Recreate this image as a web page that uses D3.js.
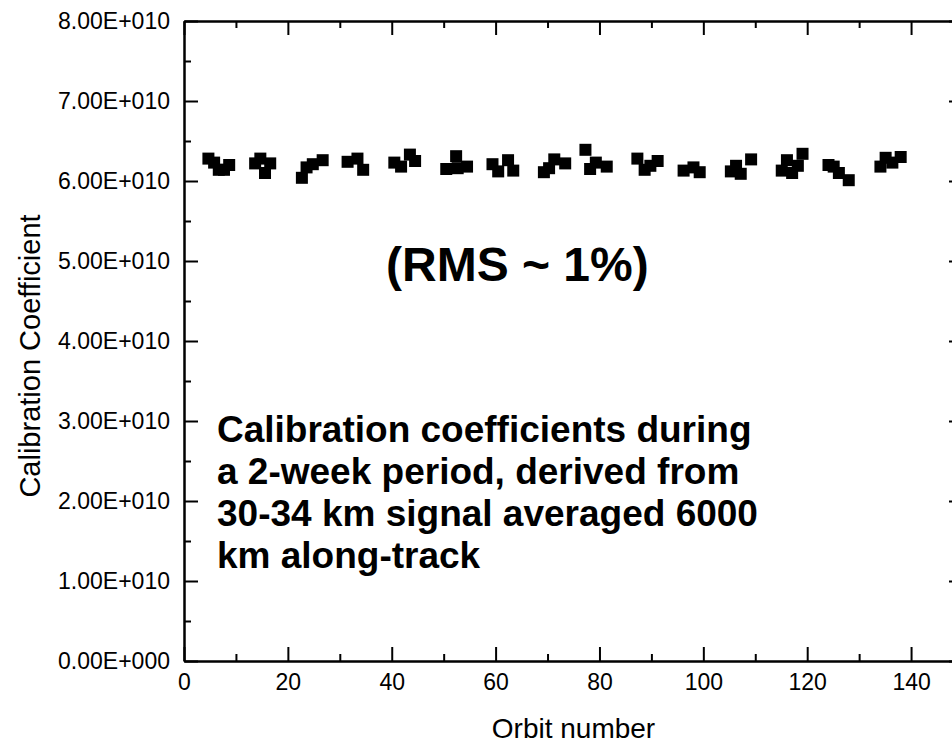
<!DOCTYPE html>
<html>
<head>
<meta charset="utf-8">
<script src="https://cdn.jsdelivr.net/npm/d3@7"></script>
<style>
    body { margin: 0; background: #fff; }
    svg { display: block; font-family: 'Liberation Sans', Arial, sans-serif; }
    .axis path, .axis line { stroke: #000; stroke-width: 2; }
    .axis text { font-size: 23px; fill: #000; font-family: 'Liberation Sans', Arial, sans-serif; }
</style>
</head>
<body>
<svg id="chart" width="952" height="744"></svg>
<script>
'use strict';

// Orbit numbers and calibration coefficients
const orbits = [
    4.7, 5.8, 6.7, 7.7, 8.7,
    13.7, 14.7, 15.6, 16.6,
    22.7, 23.6, 24.8, 26.7,
    31.5, 33.4, 34.5,
    40.5, 41.8, 43.5, 44.5,
    50.5, 52.4, 52.7, 54.5,
    59.4, 60.5, 62.4, 63.4,
    69.3, 70.3, 71.3, 73.4,
    77.3, 78.2, 79.3, 81.4,
    87.3, 88.7, 89.8, 91.2,
    96.2, 98.1, 99.3,
    105.3, 106.3, 107.2, 109.2,
    115.1, 116.1, 117.1, 118.2, 119.1,
    124.1, 125.1, 126.1, 128.0,
    134.1, 135.1, 136.4, 138.0
];
const coefficients = [
    6.28e10, 6.23e10, 6.14e10, 6.14e10, 6.20e10,
    6.22e10, 6.28e10, 6.10e10, 6.22e10,
    6.04e10, 6.17e10, 6.21e10, 6.26e10,
    6.24e10, 6.28e10, 6.14e10,
    6.23e10, 6.18e10, 6.33e10, 6.25e10,
    6.15e10, 6.31e10, 6.16e10, 6.18e10,
    6.21e10, 6.12e10, 6.26e10, 6.13e10,
    6.11e10, 6.16e10, 6.27e10, 6.22e10,
    6.39e10, 6.15e10, 6.23e10, 6.18e10,
    6.28e10, 6.14e10, 6.19e10, 6.25e10,
    6.13e10, 6.17e10, 6.11e10,
    6.12e10, 6.19e10, 6.09e10, 6.27e10,
    6.13e10, 6.26e10, 6.10e10, 6.19e10, 6.34e10,
    6.20e10, 6.18e10, 6.10e10, 6.01e10,
    6.18e10, 6.29e10, 6.23e10, 6.30e10
];

const xMajorTicks = [0, 20, 40, 60, 80, 100, 120, 140];
const xMinorTicks = [10, 30, 50, 70, 90, 110, 130, 150];
const yMajorTicks = [0, 1e10, 2e10, 3e10, 4e10, 5e10, 6e10, 7e10, 8e10];
const yMinorTicks = [0.5e10, 1.5e10, 2.5e10, 3.5e10, 4.5e10, 5.5e10, 6.5e10, 7.5e10];

const notes = [
    'Calibration coefficients during',
    'a 2-week period, derived from',
    '30-34 km signal averaged 6000',
    'km along-track'
];

const svg = d3.select('#chart');
const plot = { left: 184, right: 963, top: 21, bottom: 661 };
const majorLen = 14, minorLen = 7, markSize = 12;

const x = d3.scaleLinear().domain([0, 150]).range([plot.left, plot.right]);
const y = d3.scaleLinear().domain([0, 8e10]).range([plot.bottom, plot.top]);

function sciFormat(v) {
    if (v === 0) return '0.00E+000';
    return (v / 1e10).toFixed(2) + 'E+010';
}

function drawAxis(axis, translate) {
    const g = svg.append('g')
        .attr('class', 'axis')
        .attr('transform', translate)
        .call(axis);
    g.attr('font-family', null).attr('font-size', null);
    return g;
}

// bottom and top x axes, ticks point inwards
drawAxis(d3.axisBottom(x).tickValues(xMajorTicks).tickSize(-majorLen).tickSizeOuter(0)
    .tickPadding(13).tickFormat(d3.format('d')), `translate(0,${plot.bottom})`);
drawAxis(d3.axisBottom(x).tickValues(xMinorTicks).tickSize(-minorLen).tickSizeOuter(0)
    .tickFormat(''), `translate(0,${plot.bottom})`);
drawAxis(d3.axisTop(x).tickValues(xMajorTicks).tickSize(-majorLen).tickSizeOuter(0)
    .tickFormat(''), `translate(0,${plot.top})`);
drawAxis(d3.axisTop(x).tickValues(xMinorTicks).tickSize(-minorLen).tickSizeOuter(0)
    .tickFormat(''), `translate(0,${plot.top})`);

// left and right y axes
drawAxis(d3.axisLeft(y).tickValues(yMajorTicks).tickSize(-majorLen).tickSizeOuter(0)
    .tickPadding(14).tickFormat(sciFormat), `translate(${plot.left},0)`);
drawAxis(d3.axisLeft(y).tickValues(yMinorTicks).tickSize(-minorLen).tickSizeOuter(0)
    .tickFormat(''), `translate(${plot.left},0)`);
drawAxis(d3.axisRight(y).tickValues(yMajorTicks).tickSize(-majorLen).tickSizeOuter(0)
    .tickFormat(''), `translate(${plot.right},0)`);
drawAxis(d3.axisRight(y).tickValues(yMinorTicks).tickSize(-minorLen).tickSizeOuter(0)
    .tickFormat(''), `translate(${plot.right},0)`);

// data squares
const points = orbits.map((o, i) => ({ orbit: o, value: coefficients[i] }));
svg.append('g')
    .selectAll('rect')
    .data(points)
    .enter()
    .append('rect')
    .attr('x', d => x(d.orbit) - markSize / 2)
    .attr('y', d => y(d.value) - markSize / 2)
    .attr('width', markSize)
    .attr('height', markSize)
    .attr('fill', '#000');

// axis titles
svg.append('text')
    .attr('x', (plot.left + plot.right) / 2)
    .attr('y', 738)
    .attr('text-anchor', 'middle')
    .style('font-size', '28px')
    .text('Orbit number');

svg.append('text')
    .attr('transform', 'translate(40,356) rotate(-90)')
    .attr('text-anchor', 'middle')
    .style('font-size', '29px')
    .text('Calibration Coefficient');

// annotations
svg.append('text')
    .attr('x', 386)
    .attr('y', 281)
    .style('font-size', '48px')
    .style('font-weight', 'bold')
    .text('(RMS ~ 1%)');

svg.append('g')
    .selectAll('text')
    .data(notes)
    .enter()
    .append('text')
    .attr('x', 217)
    .attr('y', (d, i) => 442 + i * 42)
    .style('font-size', '37px')
    .style('font-weight', 'bold')
    .text(d => d);
</script>
</body>
</html>
